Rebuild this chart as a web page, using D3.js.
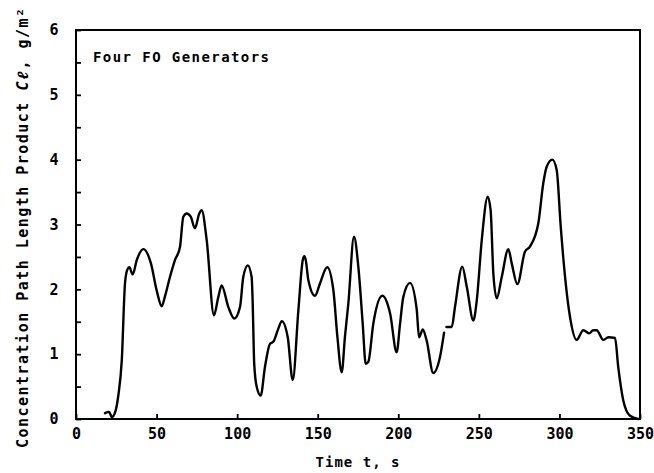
<!DOCTYPE html>
<html>
<head>
<meta charset="utf-8">
<script src="https://cdn.jsdelivr.net/npm/d3@7"></script>
<style>
  html, body { margin: 0; padding: 0; background: #fff; }
  svg { display: block; }
  text { font-family: "DejaVu Sans Mono", "Liberation Mono", monospace; font-weight: bold; fill: #000; }
</style>
</head>
<body>
<svg id="chart" width="654" height="473"></svg>
<script>
// ---- data ----
const timeS = [18.0, 20.5, 22.3, 24.5, 26.3, 28.4, 30.4, 31.8, 33.1, 35.2, 37.7, 41.8, 46.5, 50.1, 53.2, 55.2,
  58.3, 61.4, 64.5, 66.6, 68.7, 71.2, 73.8, 76.5, 78.0, 81.1, 85.6, 88.3, 90.4, 94.5, 98.2, 101.8, 103.8,
  106.6, 109.0, 109.6, 110.6, 112.1, 114.6, 117.3, 120.4, 122.4, 125.5, 127.7, 131.4, 134.5, 138.0, 140.7,
  141.7, 142.6, 144.2, 148.3, 151.4, 155.9, 159.7, 162.2, 164.9, 166.9, 169.0, 172.5, 175.2, 177.9, 179.8,
  181.4, 184.5, 190.1, 194.9, 199.0, 201.1, 203.1, 207.3, 211.4, 212.9, 215.2, 217.6, 221.7, 225.9, 228.4,
  229.2, 229.9, 233.2, 235.2, 239.7, 242.5, 246.6, 248.7, 251.8, 255.5, 257.3, 259.0, 261.1, 264.2, 268.3,
  270.4, 273.9, 278.6, 281.7, 286.9, 290.0, 292.1, 295.6, 298.3, 300.8, 303.5, 306.6, 310.7, 314.8, 318.5,
  321.0, 323.1, 327.2, 330.3, 334.5, 336.5, 339.6, 343.8, 349.0];
const clValues = [0.09, 0.11, 0.03, 0.12, 0.37, 0.90, 2.09, 2.30, 2.34, 2.23, 2.45, 2.62, 2.40, 1.98, 1.74, 1.89,
  2.19, 2.45, 2.65, 3.12, 3.17, 3.12, 2.94, 3.17, 3.22, 2.76, 1.60, 1.88, 2.06, 1.73, 1.55, 1.73, 2.19,
  2.37, 2.19, 1.83, 0.85, 0.50, 0.36, 0.81, 1.16, 1.19, 1.39, 1.51, 1.26, 0.60, 1.68, 2.45,
  2.51, 2.45, 2.14, 1.90, 2.09, 2.34, 1.99, 1.27, 0.72, 1.27, 1.78, 2.81, 2.35, 1.48, 0.85,
  0.88, 1.47, 1.90, 1.63, 1.03, 1.47, 1.88, 2.10, 1.70, 1.26, 1.38, 1.21, 0.71, 0.96, 1.33,
  null, 1.42, 1.42, 1.73, 2.35, 2.04, 1.52, 1.83, 2.76, 3.43, 3.22, 2.24, 1.86, 2.19, 2.62,
  2.40, 2.08, 2.58, 2.66, 3.02, 3.64, 3.89, 4.00, 3.84, 2.97, 2.19, 1.57, 1.22, 1.37, 1.32,
  1.37, 1.37, 1.22, 1.26, 1.25, 0.80, 0.29, 0.05, 0.00];
const xTicks = [0, 50, 100, 150, 200, 250, 300, 350];
const yTicks = [0, 1, 2, 3, 4, 5, 6];
const yMinorTicks = [0.5, 1.5, 2.5, 3.5, 4.5, 5.5];
const titleText = "Four FO Generators";
const xLabel = "Time t, s";

// ---- layout ----
const svg = d3.select("#chart");
const x = d3.scaleLinear().domain([0, 350]).range([76, 640]);
const y = d3.scaleLinear().domain([0, 6]).range([419, 30]);

// frame
svg.append("rect")
  .attr("x", x(0)).attr("y", y(6))
  .attr("width", x(350) - x(0)).attr("height", y(0) - y(6))
  .attr("fill", "none").attr("stroke", "#000").attr("stroke-width", 2);

// x axis ticks (inward)
const xAxis = d3.axisBottom(x).tickValues(xTicks).tickSize(-5).tickPadding(9).tickFormat(d3.format("d"));
const gx = svg.append("g").attr("transform", `translate(0,${y(0)})`).call(xAxis);
gx.select(".domain").remove();
gx.selectAll(".tick line").attr("stroke", "#000").attr("stroke-width", 1.8);
gx.selectAll(".tick text").attr("font-size", 15).attr("dy", "0.72em");

// y axis ticks (inward)
const yAxis = d3.axisLeft(y).tickValues(yTicks).tickSize(-5).tickPadding(22).tickFormat(d3.format("d"));
const gy = svg.append("g").attr("transform", `translate(${x(0)},0)`).call(yAxis);
gy.select(".domain").remove();
gy.selectAll(".tick line").attr("stroke", "#000").attr("stroke-width", 1.8);
gy.selectAll(".tick text").attr("font-size", 15).attr("text-anchor", "middle");

const gyMinor = d3.axisLeft(y).tickValues(yMinorTicks).tickSize(-5).tickFormat("");
const gm = svg.append("g").attr("transform", `translate(${x(0)},0)`).call(gyMinor);
gm.select(".domain").remove();
gm.selectAll(".tick line").attr("stroke", "#000").attr("stroke-width", 1.8);

// curve
const pts = timeS.map((t, i) => ({ t, v: clValues[i] }));
const line = d3.line()
  .defined(d => d.v !== null)
  .x(d => x(d.t)).y(d => y(d.v))
  .curve(d3.curveMonotoneX);
svg.append("path").datum(pts)
  .attr("d", line)
  .attr("fill", "none").attr("stroke", "#000").attr("stroke-width", 2.4)
  .attr("stroke-linejoin", "round").attr("stroke-linecap", "round");

// title
svg.append("text").attr("x", 93).attr("y", 62).attr("font-size", 14)
  .attr("textLength", 176).attr("lengthAdjust", "spacing")
  .text(titleText);

// x label
svg.append("text").attr("x", (x(0) + x(350)) / 2).attr("y", 467).attr("font-size", 14)
  .attr("text-anchor", "middle").attr("letter-spacing", 1).text(xLabel);

// y label
const yl = svg.append("text")
  .attr("transform", "translate(28,228) rotate(-90)")
  .attr("text-anchor", "middle").attr("font-size", 15)
  .attr("textLength", 440).attr("lengthAdjust", "spacing");
yl.append("tspan").text("Concentration Path Length Product ");
yl.append("tspan").attr("font-style", "italic").text("Cℓ");
yl.append("tspan").text(", g/m²");
</script>
</body>
</html>
